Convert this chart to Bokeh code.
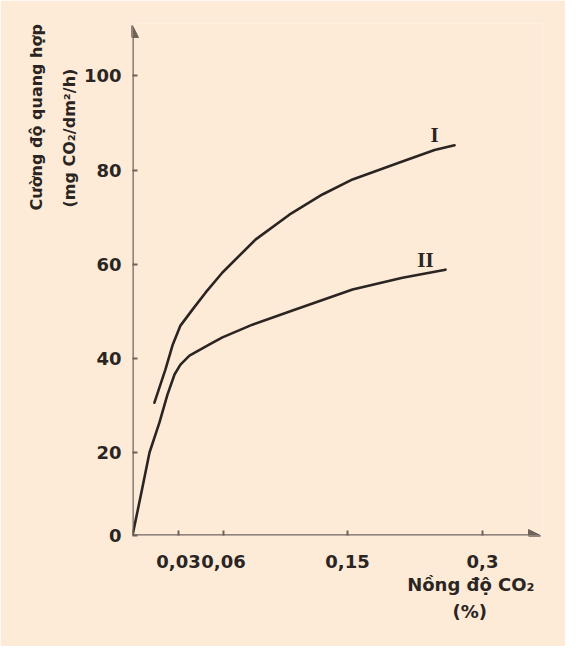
import numpy as np
from bokeh.plotting import figure
from bokeh.models import Range1d, FixedTicker, Label, Arrow, NormalHead, Title
from bokeh.embed import file_html
from bokeh.resources import INLINE

# ---------------- data ----------------
# CO2 concentration (%) and photosynthesis rate (mg CO2/dm2/h)
co2_I = [0.0143, 0.0215, 0.0261, 0.0313, 0.0393, 0.048, 0.0593, 0.0832,
         0.1078, 0.1318, 0.1556, 0.2078, 0.2467, 0.2689]
rate_I = [30.6, 37.7, 42.8, 47.0, 50.4, 54.0, 58.3, 65.3,
          70.6, 74.9, 78.1, 81.7, 84.3, 85.3]

co2_II = [0.0, 0.0065, 0.0111, 0.0176, 0.0228, 0.0274, 0.0313, 0.0373,
          0.0507, 0.0593, 0.081, 0.1101, 0.1556, 0.2111, 0.2589]
rate_II = [0.0, 11.6, 20.0, 26.4, 32.3, 36.6, 38.7, 40.6,
           43.0, 44.5, 47.2, 50.2, 54.7, 57.2, 58.9]

curve_names = ["I", "II"]

x_tick_values = [0.03, 0.06, 0.15, 0.3]
x_tick_labels = ["0,03", "0,06", "0,15", "0,3"]
y_tick_values = [0, 20, 40, 60, 80, 100]
y_tick_labels = ["0", "20", "40", "60", "80", "100"]

x_title = ["Nồng độ CO₂", "(%)"]
y_title = ["Cường độ quang hợp", "(mg CO₂/dm²/h)"]

# ---------------- layout: the original axes are not drawn to scale ----------------
X_SCALE_VALS = [0.0, 0.03, 0.06, 0.15, 0.3]
X_SCALE_POS = [0.0, 46.0, 91.0, 215.0, 350.0]
Y_SCALE_VALS = [0, 20, 40, 60, 80, 100]
Y_SCALE_POS = [0.0, 83.0, 177.0, 271.0, 365.0, 460.0]


def xmap(v):
    return np.interp(v, X_SCALE_VALS, X_SCALE_POS)


def ymap(v):
    return np.interp(v, Y_SCALE_VALS, Y_SCALE_POS)


BG = "#FDEBD8"
INK = "#2a2522"
AXIS = "#6e625b"
FONT = "DejaVu Sans"

X_END, Y_END = 408, 510

p = figure(width=565, height=646, output_backend="svg", toolbar_location=None,
           x_range=Range1d(0, X_END + 2), y_range=Range1d(0, Y_END + 2),
           min_border_left=132, min_border_right=23,
           min_border_top=23, min_border_bottom=111,
           background_fill_color=BG, border_fill_color=BG,
           outline_line_color=None)
p.grid.visible = False

# axes (ticks inward, labels from the value arrays)
xt = [float(v) for v in xmap(x_tick_values)]
yt = [float(v) for v in ymap(y_tick_values)]
p.xaxis.ticker = FixedTicker(ticks=xt)
p.yaxis.ticker = FixedTicker(ticks=yt)
p.xaxis.major_label_overrides = {t: s for t, s in zip(xt, x_tick_labels)}
p.yaxis.major_label_overrides = {t: s for t, s in zip(yt, y_tick_labels)}
for ax in (p.xaxis[0], p.yaxis[0]):
    ax.axis_line_color = None
    ax.major_tick_in = 5
    ax.major_tick_out = 0
    ax.major_tick_line_color = AXIS
    ax.major_tick_line_width = 2
    ax.minor_tick_line_color = None
    ax.major_label_text_font = FONT
    ax.major_label_text_font_style = "bold"
    ax.major_label_text_font_size = "18px"
    ax.major_label_text_color = INK
p.xaxis.major_label_standoff = 19
p.yaxis.major_label_standoff = 11

# axis lines with arrow heads
p.add_layout(Arrow(x_start=0, y_start=0, x_end=X_END, y_end=0,
                   line_color=AXIS, line_width=2.5,
                   end=NormalHead(size=12, fill_color=AXIS, line_color=AXIS)))
p.add_layout(Arrow(x_start=0, y_start=0, x_end=0, y_end=Y_END,
                   line_color=AXIS, line_width=2.5,
                   end=NormalHead(size=12, fill_color=AXIS, line_color=AXIS)))

# curves
curves = [(co2_I, rate_I), (co2_II, rate_II)]
for name, (cx, cy) in zip(curve_names, curves):
    dx = xmap(cx)
    dy = ymap(cy)
    p.line(dx, dy, line_color=INK, line_width=2.6, line_join="round", line_cap="round")
    p.add_layout(Label(x=float(dx[-1]) - 20, y=float(dy[-1]) + 10, text=name,
                       text_font="Liberation Serif", text_font_style="bold",
                       text_font_size="21px", text_color=INK,
                       text_align="center", text_baseline="middle"))

# x-axis title (two lines, below right)
p.add_layout(Title(text=x_title[0], align="right", offset=8, standoff=2,
                   text_font=FONT, text_font_style="bold", text_font_size="18px",
                   text_color=INK), "below")
p.add_layout(Title(text=x_title[1], align="left", offset=320, standoff=7,
                   text_font=FONT, text_font_style="bold", text_font_size="18px",
                   text_color=INK), "below")

# y-axis title (two rotated lines, top left): nearer line first
p.add_layout(Title(text=y_title[1], align="left", offset=328, standoff=4,
                   text_font=FONT, text_font_style="bold", text_font_size="16px",
                   text_color=INK), "left")
p.add_layout(Title(text=y_title[0], align="left", offset=325, standoff=19,
                   text_font=FONT, text_font_style="bold", text_font_size="16px",
                   text_color=INK), "left")

open("out.html", "w").write(file_html(p, INLINE))
